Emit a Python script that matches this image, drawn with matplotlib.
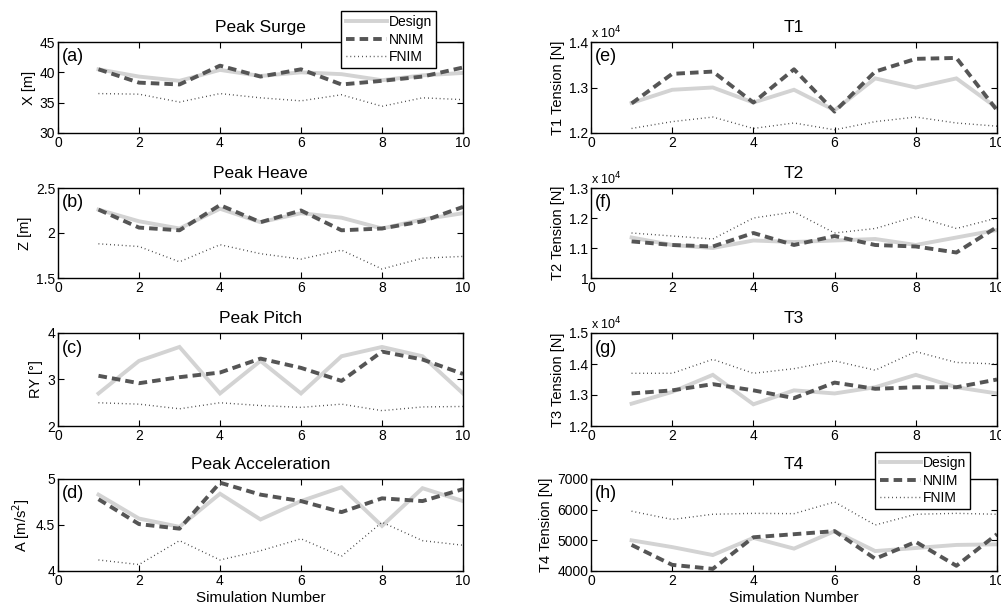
import matplotlib
matplotlib.use("Agg")
import matplotlib.pyplot as plt
from matplotlib.ticker import FuncFormatter
import numpy as np

plt.rcParams['font.family'] = ['Liberation Sans', 'DejaVu Sans']

sim = [1, 2, 3, 4, 5, 6, 7, 8, 9, 10]

# left column: platform motions
surge_design = [40.5, 39.3, 38.6, 40.4, 39.4, 40.0, 39.7, 38.7, 39.5, 39.9]
surge_nnim = [40.5, 38.3, 38.0, 41.1, 39.3, 40.5, 38.0, 38.6, 39.3, 40.8]
surge_fnim = [36.5, 36.4, 35.1, 36.5, 35.8, 35.3, 36.3, 34.4, 35.8, 35.5]

heave_design = [2.26, 2.13, 2.05, 2.27, 2.12, 2.22, 2.17, 2.05, 2.15, 2.22]
heave_nnim = [2.26, 2.06, 2.03, 2.31, 2.12, 2.25, 2.03, 2.05, 2.13, 2.29]
heave_fnim = [1.88, 1.85, 1.68, 1.87, 1.77, 1.71, 1.81, 1.60, 1.72, 1.74]

pitch_design = [2.7, 3.4, 3.7, 2.7, 3.4, 2.7, 3.5, 3.7, 3.5, 2.7]
pitch_nnim = [3.08, 2.92, 3.05, 3.15, 3.45, 3.25, 2.97, 3.6, 3.43, 3.12]
pitch_fnim = [2.5, 2.47, 2.37, 2.5, 2.44, 2.4, 2.47, 2.33, 2.41, 2.42]

acc_design = [4.83, 4.57, 4.48, 4.84, 4.56, 4.76, 4.91, 4.49, 4.90, 4.76]
acc_nnim = [4.78, 4.51, 4.46, 4.96, 4.83, 4.76, 4.64, 4.79, 4.76, 4.89]
acc_fnim = [4.12, 4.07, 4.33, 4.12, 4.22, 4.35, 4.16, 4.53, 4.33, 4.28]

# right column: mooring line tensions [N]
t1_design = [12660, 12950, 13000, 12670, 12950, 12500, 13200, 13000, 13200, 12550]
t1_nnim = [12650, 13300, 13350, 12670, 13400, 12470, 13350, 13630, 13650, 12500]
t1_fnim = [12100, 12250, 12350, 12100, 12220, 12070, 12250, 12350, 12220, 12150]

t2_design = [11350, 11100, 11000, 11250, 11200, 11250, 11300, 11100, 11350, 11600]
t2_nnim = [11220, 11100, 11050, 11500, 11100, 11400, 11100, 11050, 10850, 11700]
t2_fnim = [11500, 11400, 11300, 12000, 12200, 11500, 11650, 12050, 11650, 12000]

t3_design = [12720, 13100, 13650, 12700, 13150, 13050, 13250, 13650, 13250, 13050]
t3_nnim = [13050, 13150, 13350, 13150, 12900, 13400, 13200, 13250, 13250, 13500]
t3_fnim = [13700, 13700, 14150, 13700, 13850, 14100, 13800, 14400, 14050, 14000]

t4_design = [5000, 4780, 4520, 5080, 4730, 5300, 4650, 4750, 4850, 4870]
t4_nnim = [4850, 4200, 4070, 5100, 5200, 5300, 4400, 4950, 4170, 5200]
t4_fnim = [5950, 5680, 5850, 5880, 5870, 6250, 5500, 5850, 5880, 5850]

left_panels = [
    ("Peak Surge", "X [m]", "(a)", surge_design, surge_nnim, surge_fnim, (30, 45), [30, 35, 40, 45]),
    ("Peak Heave", "Z [m]", "(b)", heave_design, heave_nnim, heave_fnim, (1.5, 2.5), [1.5, 2, 2.5]),
    ("Peak Pitch", "RY [\u00b0]", "(c)", pitch_design, pitch_nnim, pitch_fnim, (2, 4), [2, 3, 4]),
    ("Peak Acceleration", "A [m/s$^2$]", "(d)", acc_design, acc_nnim, acc_fnim, (4, 5), [4, 4.5, 5]),
]
right_panels = [
    ("T1", "T1 Tension [N]", "(e)", t1_design, t1_nnim, t1_fnim, (12000, 14000), [12000, 13000, 14000], True),
    ("T2", "T2 Tension [N]", "(f)", t2_design, t2_nnim, t2_fnim, (10000, 13000), [10000, 11000, 12000, 13000], True),
    ("T3", "T3 Tension [N]", "(g)", t3_design, t3_nnim, t3_fnim, (12000, 15000), [12000, 13000, 14000, 15000], True),
    ("T4", "T4 Tension [N]", "(h)", t4_design, t4_nnim, t4_fnim, (4000, 7000), [4000, 5000, 6000, 7000], False),
]

W, H = 1001, 608
fig = plt.figure(figsize=(W / 100, H / 100), dpi=100)

rows_px = [(42, 133), (188, 278), (333, 426), (479, 571)]
left_x = (58, 463)
right_x = (591, 997)

c_design = '#d3d3d3'
c_nnim = '#555555'
c_fnim = '#333333'


def make_ax(xr, yr):
    return fig.add_axes([xr[0] / W, 1 - yr[1] / H, (xr[1] - xr[0]) / W, (yr[1] - yr[0]) / H])


def draw(ax, title, ylab, tag, d, n, f, ylim, yticks):
    ax.plot(sim, d, color=c_design, lw=2.8, label='Design', solid_joinstyle='miter')
    ax.plot(sim, n, color=c_nnim, lw=2.8, ls=(0, (2.2, 1.3)), label='NNIM')
    ax.plot(sim, f, color=c_fnim, lw=1.0, ls=(0, (0.6, 2.2)), label='FNIM')
    ax.set_xlim(0, 10)
    ax.set_ylim(*ylim)
    ax.set_xticks([0, 2, 4, 6, 8, 10])
    ax.set_yticks(yticks)
    ax.tick_params(direction='in', top=True, right=True, labelsize=10, length=4, width=0.8, pad=2)
    ax.set_title(title, fontsize=12.5, pad=7)
    ax.set_ylabel(ylab, fontsize=10.5, labelpad=3)
    ax.text(0.01, 0.93, tag, transform=ax.transAxes, fontsize=13, va='top', ha='left')
    for s in ax.spines.values():
        s.set_linewidth(1.0)


axes_left = []
for (title, ylab, tag, d, n, f, ylim, yt), yr in zip(left_panels, rows_px):
    ax = make_ax(left_x, yr)
    draw(ax, title, ylab, tag, d, n, f, ylim, yt)
    ax.yaxis.set_major_formatter(FuncFormatter(lambda v, p: '%g' % v))
    axes_left.append(ax)

axes_right = []
for (title, ylab, tag, d, n, f, ylim, yt, scaled), yr in zip(right_panels, rows_px):
    ax = make_ax(right_x, yr)
    draw(ax, title, ylab, tag, d, n, f, ylim, yt)
    if scaled:
        ax.yaxis.set_major_formatter(FuncFormatter(lambda v, p: '%g' % round(v / 1e4, 4)))
        ax.text(0.0, 1.01, 'x 10$^4$', transform=ax.transAxes, fontsize=9, va='bottom', ha='left')
    else:
        ax.yaxis.set_major_formatter(FuncFormatter(lambda v, p: '%g' % v))
    axes_right.append(ax)

axes_left[-1].set_xlabel('Simulation Number', fontsize=11, labelpad=2)
axes_right[-1].set_xlabel('Simulation Number', fontsize=11, labelpad=2)

for ax, (rx, ty) in [(axes_left[0], (436, 11)), (axes_right[-1], (970, 452))]:
    leg = ax.legend(loc='upper right', bbox_to_anchor=(rx / W, 1 - ty / H),
                    bbox_transform=fig.transFigure, fontsize=10, frameon=True,
                    fancybox=False, edgecolor='black', framealpha=1,
                    handlelength=3.0, handletextpad=0.1, labelspacing=0.25,
                    borderpad=0.3, borderaxespad=0)
    leg.get_frame().set_linewidth(1.0)
    leg.set_zorder(10)

fig.savefig('out.png', dpi=100)
